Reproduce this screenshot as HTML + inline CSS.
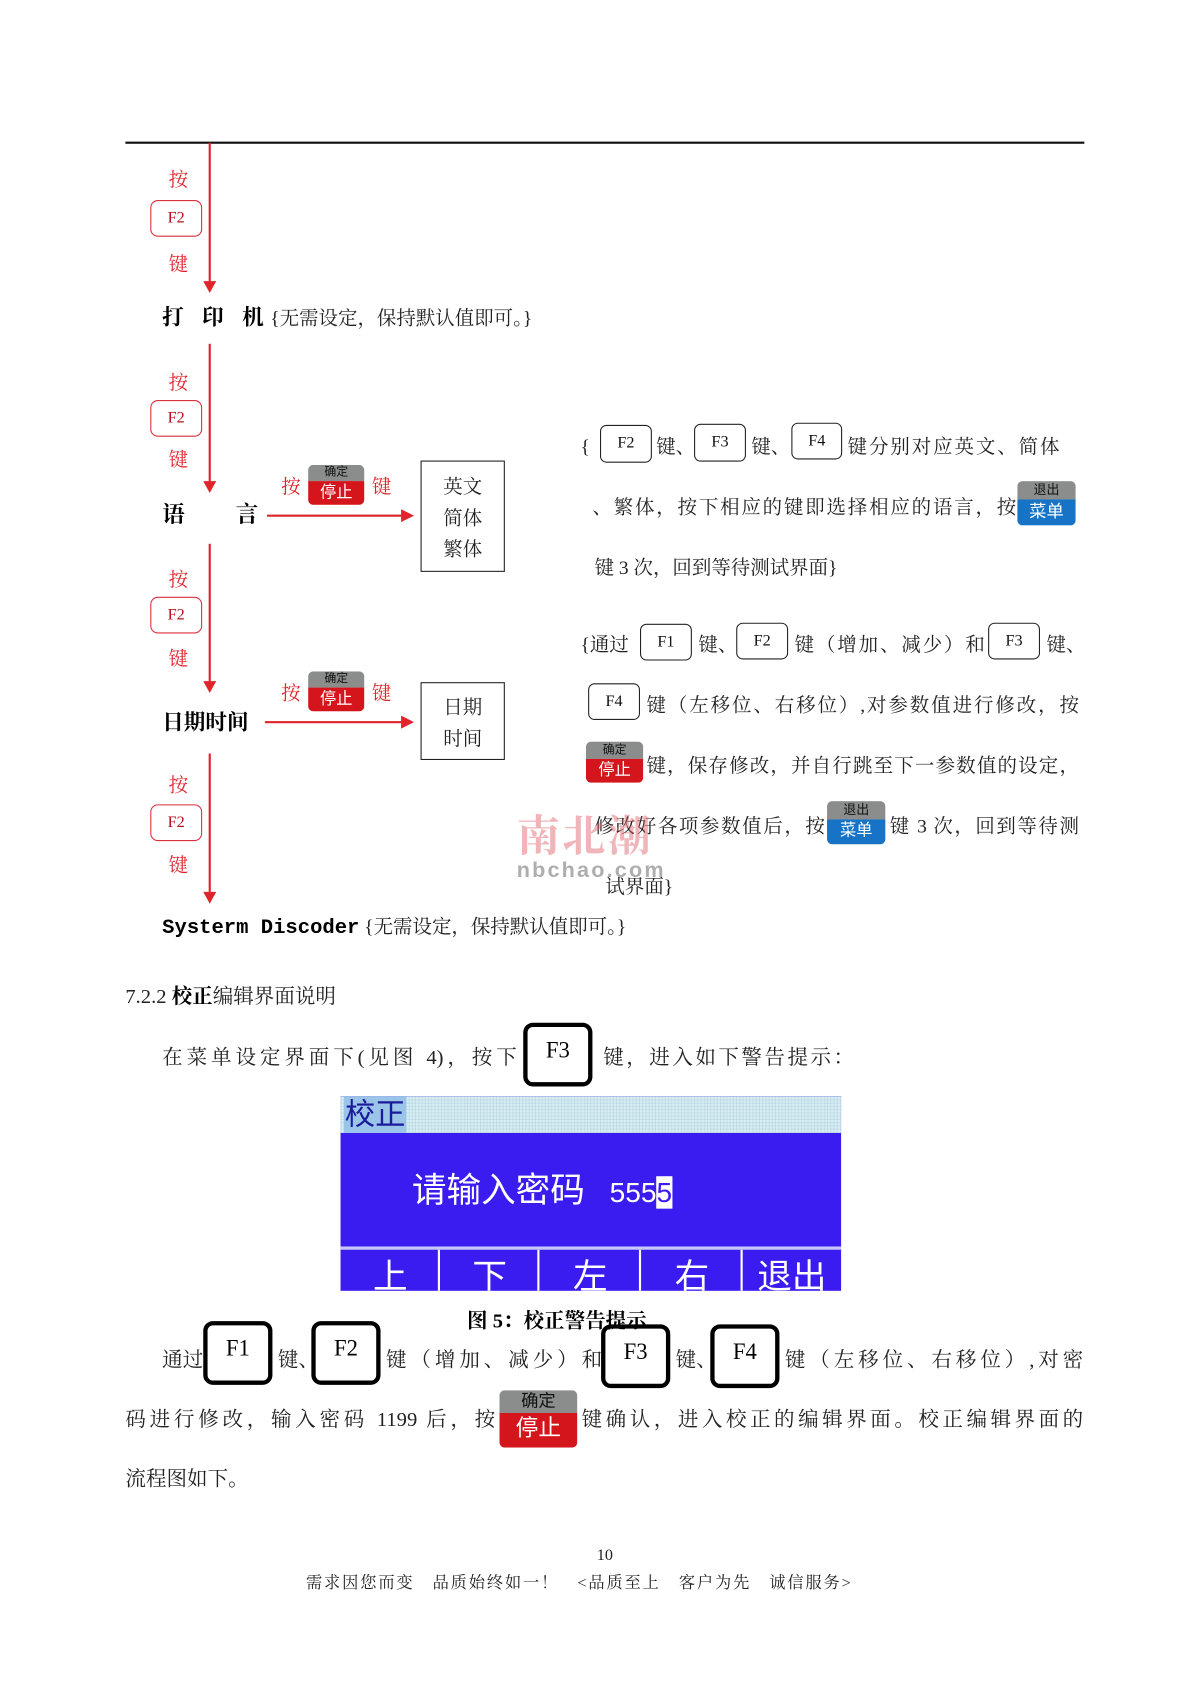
<!DOCTYPE html>
<html><head><meta charset="utf-8">
<style>
html,body{margin:0;padding:0;background:#fff;width:1200px;height:1697px;overflow:hidden}
#w{position:absolute;left:0;top:0;width:1110px;height:1570px;transform:scale(1.08108);transform-origin:0 0}
.t{position:absolute;white-space:nowrap;font-family:"Liberation Serif","Noto Serif CJK SC",serif;font-size:18px;line-height:20px;color:#222}
.j{text-align:justify;text-align-last:justify}
.r{color:#e0242c}
.b{font-weight:bold;color:#000}
.fk{position:absolute;border:1.5px solid #d9303a;border-radius:7px;box-sizing:border-box;font-family:"Liberation Serif",serif;font-size:15px;color:#b0121c;display:flex;align-items:center;justify-content:center}
.sk{position:absolute;border:1.2px solid #222;border-radius:6px;box-sizing:border-box;font-family:"Liberation Serif",serif;font-size:15px;color:#111;display:flex;align-items:center;justify-content:center}
.bk{position:absolute;border:4.5px solid #000;border-radius:9px;box-sizing:border-box;font-family:"Liberation Serif",serif;font-size:21px;color:#000;display:flex;align-items:center;justify-content:center;padding-bottom:8px}
.ck{position:absolute;border-radius:5px;overflow:hidden;font-family:"Liberation Sans","Noto Sans CJK SC",sans-serif;text-align:center}
.ck .a{background:#8b8d8d;color:#111}
.ck .c{background:#d4161c;color:#fff}
.ck .m{background:#1673c6;color:#fff}
.vl{position:absolute;left:193px;width:1.6px;background:#e0242c}
.ah{position:absolute;width:0;height:0;border-left:6px solid transparent;border-right:6px solid transparent;border-top:11px solid #e0242c}
.hl{position:absolute;height:1.6px;background:#e0242c}
.ahr{position:absolute;width:0;height:0;border-top:6px solid transparent;border-bottom:6px solid transparent;border-left:12px solid #e0242c}
.box{position:absolute;border:1.5px solid #222;box-sizing:border-box}
</style></head><body><div id="w">

<div style="position:absolute;left:116px;top:131px;width:887px;height:1.5px;background:#111"></div>

<div class="vl" style="top:132px;height:129px"></div><div class="ah" style="left:188px;top:260px"></div>
<div class="vl" style="top:318px;height:128px"></div><div class="ah" style="left:188px;top:445px"></div>
<div class="vl" style="top:503px;height:128px"></div><div class="ah" style="left:188px;top:630px"></div>
<div class="vl" style="top:697px;height:128px"></div><div class="ah" style="left:188px;top:825px"></div>

<div class="t r" style="left:156px;top:156px">按</div>
<div class="fk" style="left:139px;top:185px;width:48px;height:34px">F2</div>
<div class="t r" style="left:156px;top:234px">键</div>

<div class="t r" style="left:156px;top:344px">按</div>
<div class="fk" style="left:139px;top:370px;width:48px;height:34px">F2</div>
<div class="t r" style="left:156px;top:415px">键</div>

<div class="t r" style="left:156px;top:526px">按</div>
<div class="fk" style="left:139px;top:552px;width:48px;height:34px">F2</div>
<div class="t r" style="left:156px;top:599px">键</div>

<div class="t r" style="left:156px;top:716px">按</div>
<div class="fk" style="left:139px;top:744px;width:48px;height:34px">F2</div>
<div class="t r" style="left:156px;top:790px">键</div>

<div class="t" style="left:150px;top:283px;font-size:20px;line-height:22px"><span class="b" style="letter-spacing:6px">打 印 机</span><span style="font-size:18px">{无需设定，保持默认值即可。}</span></div>
<div class="t b" style="left:150px;top:464px;font-size:21px;line-height:24px">语</div>
<div class="t b" style="left:218px;top:464px;font-size:21px;line-height:24px">言</div>
<div class="t b" style="left:150px;top:657px;font-size:20px;line-height:24px">日期时间</div>
<div class="t" style="left:150px;top:846px;font-size:20px;line-height:22px"><span style="font-family:'Liberation Mono',monospace;font-weight:bold;color:#000;font-size:19px">Systerm Discoder</span><span style="font-size:18px"> {无需设定，保持默认值即可。}</span></div>

<div class="hl" style="left:247px;top:476px;width:126px"></div><div class="ahr" style="left:371px;top:471px"></div>
<div class="hl" style="left:245px;top:667px;width:128px"></div><div class="ahr" style="left:371px;top:662px"></div>

<div class="t r" style="left:260px;top:440px">按</div>
<div class="ck" style="left:285px;top:430px;width:52px;height:37px"><div class="a" style="height:15px;font-size:11px;line-height:15px">确定</div><div class="c" style="height:22px;font-size:15px;line-height:21px">停止</div></div>
<div class="t r" style="left:344px;top:440px">键</div>

<div class="t r" style="left:260px;top:631px">按</div>
<div class="ck" style="left:285px;top:621px;width:52px;height:37px"><div class="a" style="height:15px;font-size:11px;line-height:15px">确定</div><div class="c" style="height:22px;font-size:15px;line-height:21px">停止</div></div>
<div class="t r" style="left:344px;top:631px">键</div>

<div class="box" style="left:389px;top:426px;width:78px;height:103px"></div>
<div class="t" style="left:410px;top:436px;line-height:29px;white-space:normal;width:40px">英文<br>简体<br>繁体</div>
<div class="box" style="left:389px;top:631px;width:78px;height:72px"></div>
<div class="t" style="left:410px;top:640px;line-height:29px;white-space:normal;width:40px">日期<br>时间</div>

<div class="t" style="left:537px;top:403px">{</div>
<div class="sk" style="left:555px;top:393px;width:48px;height:35px">F2</div>
<div class="t" style="left:607px;top:403px">键、</div>
<div class="sk" style="left:642px;top:392px;width:48px;height:35px">F3</div>
<div class="t" style="left:695px;top:403px">键、</div>
<div class="sk" style="left:732px;top:391px;width:47px;height:34px">F4</div>
<div class="t j" style="left:784px;top:403px;width:196px">键分别对应英文、简体</div>

<div class="t j" style="left:548px;top:459px;width:392px">、繁体，按下相应的键即选择相应的语言，按</div>
<div class="ck" style="left:941px;top:445px;width:54px;height:41px"><div class="a" style="height:17px;font-size:12px;line-height:17px">退出</div><div class="m" style="height:24px;font-size:16px;line-height:23px">菜单</div></div>
<div class="t" style="left:550px;top:515px">键 3 次，回到等待测试界面}</div>

<div class="t" style="left:537px;top:586px">{通过</div>
<div class="sk" style="left:592px;top:577px;width:48px;height:34px">F1</div>
<div class="t" style="left:646px;top:586px">键、</div>
<div class="sk" style="left:681px;top:576px;width:48px;height:34px">F2</div>
<div class="t j" style="left:735px;top:586px;width:176px">键（增加、减少）和</div>
<div class="sk" style="left:914px;top:576px;width:48px;height:34px">F3</div>
<div class="t" style="left:968px;top:586px">键、</div>

<div class="sk" style="left:544px;top:632px;width:48px;height:34px">F4</div>
<div class="t j" style="left:598px;top:642px;width:400px">键（左移位、右移位）,对参数值进行修改，按</div>

<div class="ck" style="left:542px;top:686px;width:53px;height:38px"><div class="a" style="height:16px;font-size:11px;line-height:16px">确定</div><div class="c" style="height:22px;font-size:15px;line-height:21px">停止</div></div>
<div class="t j" style="left:598px;top:698px;width:400px">键，保存修改，并自行跳至下一参数值的设定，</div>

<div class="t j" style="left:550px;top:754px;width:213px">修改好各项参数值后，按</div>
<div class="ck" style="left:765px;top:741px;width:54px;height:40px"><div class="a" style="height:17px;font-size:12px;line-height:17px">退出</div><div class="m" style="height:23px;font-size:15px;line-height:22px">菜单</div></div>
<div class="t j" style="left:823px;top:754px;width:175px">键 3 次，回到等待测</div>
<div class="t" style="left:560px;top:810px">试界面}</div>

<div class="t" style="left:478px;top:752px;font-size:40px;line-height:44px;color:rgba(220,90,100,0.45);font-weight:bold;letter-spacing:2px">南北潮</div>
<div class="t" style="left:478px;top:795px;font-family:'Liberation Sans',sans-serif;font-size:20px;color:rgba(120,120,120,0.6);font-weight:bold;letter-spacing:2px">nbchao.com</div>

<div class="t" style="left:116px;top:912px;font-size:19px;line-height:22px">7.2.2 <b style="color:#000">校正</b>编辑界面说明</div>
<div class="t j" style="left:150px;top:968px;width:328px;font-size:19px;line-height:22px">在菜单设定界面下(见图 4)，按下</div>
<div class="bk" style="left:484px;top:946px;width:64px;height:59px">F3</div>
<div class="t j" style="left:558px;top:968px;width:232px;font-size:19px;line-height:22px">键，进入如下警告提示：</div>

<div style="position:absolute;left:315px;top:1014px;width:463px;height:180px;background:#3a1cf0;overflow:hidden">
 <div style="position:absolute;left:0;top:0;width:463px;height:34px;background:#d8eef4;background-image:linear-gradient(90deg,rgba(150,190,200,.35) 1px,transparent 1px),linear-gradient(rgba(150,190,200,.35) 1px,transparent 1px);background-size:3px 3px"></div>
 <div style="position:absolute;left:3px;top:0;width:58px;height:34px;background:#9ac4e8"></div>
 <div class="t" style="left:4px;top:1px;font-family:'Liberation Sans','Noto Sans CJK SC',sans-serif;font-size:28px;line-height:32px;color:#1a1a9a">校正</div>
 <div class="t" style="left:66px;top:68px;font-family:'Liberation Sans','Noto Sans CJK SC',sans-serif;font-size:32px;line-height:38px;color:#fff">请输入密码 <span style="font-size:26px;margin-left:14px">555<span style="background:#fff;color:#3a1cf0">5</span></span></div>
 <div style="position:absolute;left:0;top:139px;width:463px;height:3px;background:#c8c8f8"></div>
 <div style="position:absolute;left:90px;top:142px;width:2px;height:40px;background:#fff"></div>
 <div style="position:absolute;left:182px;top:142px;width:2px;height:40px;background:#fff"></div>
 <div style="position:absolute;left:276px;top:142px;width:2px;height:40px;background:#fff"></div>
 <div style="position:absolute;left:370px;top:142px;width:2px;height:40px;background:#fff"></div>
 <div class="t" style="left:0;top:146px;width:463px;font-family:'Liberation Sans','Noto Sans CJK SC',sans-serif;font-size:32px;line-height:42px;color:#fff;display:flex">
  <span style="width:92px;text-align:center">上</span><span style="width:92px;text-align:center">下</span><span style="width:94px;text-align:center">左</span><span style="width:94px;text-align:center">右</span><span style="width:91px;text-align:center">退出</span></div>
</div>
<div class="t b" style="left:432px;top:1212px;font-size:19px;line-height:22px">图 5：校正警告提示</div>

<div class="t" style="left:150px;top:1248px;font-size:19px;line-height:22px">通过</div>
<div class="bk" style="left:188px;top:1222px;width:64px;height:59px">F1</div>
<div class="t" style="left:257px;top:1248px;font-size:19px;line-height:22px">键、</div>
<div class="bk" style="left:288px;top:1222px;width:64px;height:59px">F2</div>
<div class="t j" style="left:357px;top:1248px;width:200px;font-size:19px;line-height:22px">键（增加、减少）和</div>
<div class="bk" style="left:556px;top:1225px;width:64px;height:59px">F3</div>
<div class="t" style="left:625px;top:1248px;font-size:19px;line-height:22px">键、</div>
<div class="bk" style="left:657px;top:1225px;width:64px;height:59px">F4</div>
<div class="t j" style="left:726px;top:1248px;width:276px;font-size:19px;line-height:22px">键（左移位、右移位）,对密</div>

<div class="t j" style="left:116px;top:1303px;width:342px;font-size:19px;line-height:22px">码进行修改，输入密码 1199 后，按</div>
<div class="ck" style="left:462px;top:1286px;width:72px;height:53px"><div class="a" style="height:21px;font-size:16px;line-height:21px">确定</div><div class="c" style="height:32px;font-size:21px;line-height:30px">停止</div></div>
<div class="t j" style="left:538px;top:1303px;width:464px;font-size:19px;line-height:22px">键确认，进入校正的编辑界面。校正编辑界面的</div>
<div class="t" style="left:116px;top:1358px;font-size:19px;line-height:22px">流程图如下。</div>

<div class="t" style="left:552px;top:1429px;font-size:15px">10</div>
<div class="t j" style="left:283px;top:1455px;width:504px;font-size:15px">需求因您而变　品质始终如一！　&lt;品质至上　客户为先　诚信服务&gt;</div>
</div></body></html>
